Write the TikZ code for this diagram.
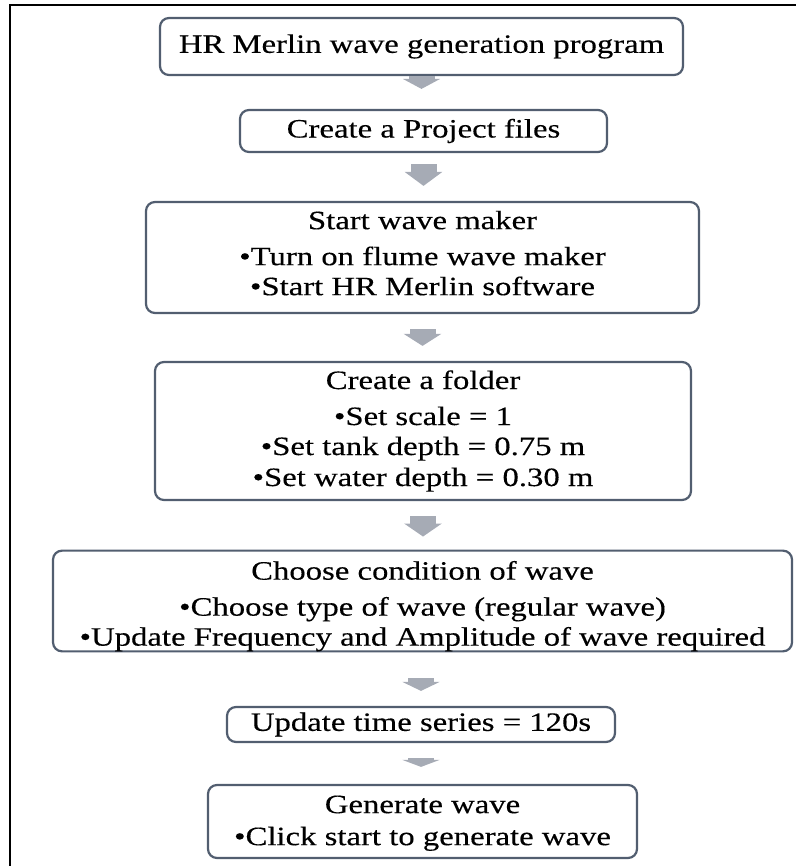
\documentclass[tikz,border=0pt]{standalone}
\usepackage{fontspec}
\setmainfont{Liberation Serif}[FakeStretch=1.235, FakeBold=0.3]
\usetikzlibrary{arrows.meta, calc}
\definecolor{boxline}{RGB}{82,94,112}
\definecolor{arrowgray}{RGB}{166,171,181}
\tikzset{
  box/.style={draw=boxline, line width=2.2pt, rounded corners=9pt, fill=white, inner sep=0pt,
              align=center, font=\fontsize{26.5}{30}\selectfont},
  flow/.style={arrowgray, line width=26pt, -{Triangle[width=37pt, length=#1]}},
  flow/.default=13pt
}

\begin{document}
\begin{tikzpicture}[x=1pt, y=-1pt]
\useasboundingbox (0,0) rectangle (796,866);
\draw[line width=2pt] (10,866) -- (10,5) -- (796,5);

\node[box, minimum width=523pt, minimum height=57pt] (program) at (421.5,46.5) {HR Merlin wave generation program};
\node[box, minimum width=367pt, minimum height=42pt] (project) at (423.5,131) {Create a Project files};
\node[box, minimum width=553pt, minimum height=111pt] (maker) at (422.5,257.5)
    {Start wave maker\\[6pt] •Turn on flume wave maker\\ •Start HR Merlin software\strut};
\node[box, minimum width=536pt, minimum height=138pt] (folder) at (423,431)
    {Create a folder\\[6pt] •Set scale = 1\\ •Set tank depth = 0.75 m\\[1pt] •Set water depth = 0.30 m};
\node[box, minimum width=739pt, minimum height=98pt] (condition) at (422.5,601)
    {\rule{0pt}{29pt}Choose condition of wave\\[6pt] •Choose type of wave (regular wave)\\ •Update Frequency and Amplitude of wave required};
\node[box, minimum width=388pt, minimum height=35pt] (series) at (421,724.5) {Update time series = 120s};
\node[box, minimum width=429pt, minimum height=73pt] (generate) at (422.5,821.5)
    {\rule{0pt}{21pt}Generate wave\\[2pt] •Click start to generate wave};

\draw[flow=10pt, shorten >=20pt] (program.south) -- (program.south |- project.north);
\draw[flow=14pt, shorten <=11pt, shorten >=15pt] (project.south) -- (project.south |- maker.north);
\draw[flow=12pt, shorten <=15pt, shorten >=15pt] (maker.south) -- (maker.south |- folder.north);
\draw[flow=13pt, shorten <=15pt, shorten >=13pt] (folder.south) -- (folder.south |- condition.north);
\draw[flow=9pt, shorten <=26pt, shorten >=15pt] (series.north |- condition.south) -- (series.north);
\draw[flow=7pt, shorten <=15pt, shorten >=17pt] (series.south) -- (series.south |- generate.north);
\end{tikzpicture}
\end{document}
